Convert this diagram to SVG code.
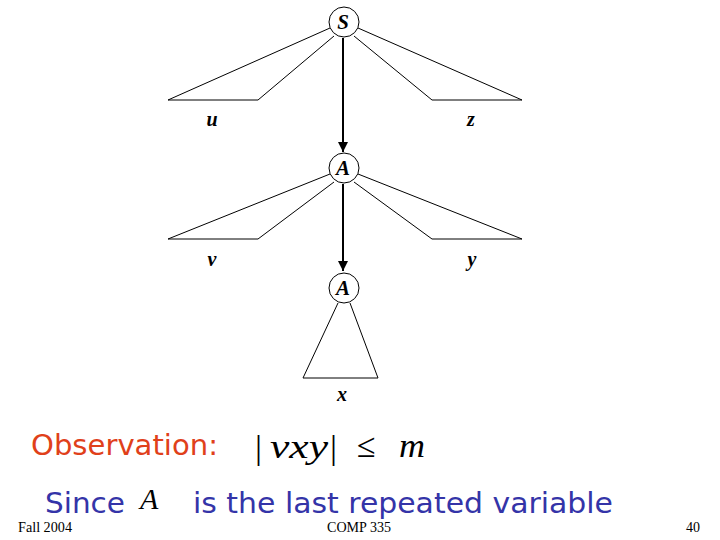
<svg xmlns="http://www.w3.org/2000/svg" width="720" height="540" viewBox="0 0 720 540">
<style>
.tri{fill:none;stroke:#000;stroke-width:1}
.node{fill:#fff;stroke:#000;stroke-width:1}
.nl{font-family:"Liberation Serif",serif;font-style:italic;font-weight:bold;font-size:21px;text-anchor:middle}
.lbl{font-family:"Liberation Serif",serif;font-style:italic;font-weight:bold;font-size:20px;text-anchor:middle}
.conn{stroke:#000;stroke-width:2;fill:none}
.foot{font-family:"Liberation Serif",serif;font-size:14px}
.math{font-family:"Liberation Serif",serif;font-size:34px}
</style>
<defs>
<marker id="ah" viewBox="0 0 10 10" refX="10" refY="5" markerWidth="5" markerHeight="5" orient="auto" markerUnits="strokeWidth">
<path d="M0,0 L10,5 L0,10 z" fill="#000"/>
</marker>
</defs>
<rect width="720" height="540" fill="#fff"/>
<g id="subtrees">
<polyline class="tri" points="330,28 168,100 258,100 334,36"/>
<polyline class="tri" points="358,28 522,100 432,100 354,36"/>
<polyline class="tri" points="330,174 168,239 258,239 334,182"/>
<polyline class="tri" points="358,174 522,239 432,239 354,182"/>
<polyline class="tri" points="338,303 303,378 378,378 350,303"/>
</g>
<g id="connectors">
<line class="conn" x1="343" y1="38" x2="343" y2="152" marker-end="url(#ah)"/>
<line class="conn" x1="343" y1="184" x2="343" y2="271" marker-end="url(#ah)"/>
</g>
<g id="node-S">
<circle class="node" cx="344" cy="22" r="15"/>
<text class="nl" x="343" y="29">S</text>
</g>
<g id="node-A1">
<circle class="node" cx="344" cy="168" r="15"/>
<text class="nl" x="343" y="175">A</text>
</g>
<g id="node-A2">
<circle class="node" cx="344" cy="288" r="15"/>
<text class="nl" x="343" y="295">A</text>
</g>
<g id="labels">
<text class="lbl" x="212" y="126">u</text>
<text class="lbl" x="471" y="126">z</text>
<text class="lbl" x="212" y="266">v</text>
<text class="lbl" x="472" y="266">y</text>
<text class="lbl" x="342" y="401">x</text>
</g>
<g id="text">
<text x="31" y="455" font-family="DejaVu Sans, sans-serif" font-size="29" fill="#E0401A" textLength="187" lengthAdjust="spacingAndGlyphs">Observation:</text>
<text class="math" x="255" y="459" font-size="40" textLength="7" lengthAdjust="spacingAndGlyphs">|</text>
<text class="math" x="270" y="458" font-style="italic" textLength="58" lengthAdjust="spacingAndGlyphs">vxy</text>
<text class="math" x="330" y="459" font-size="40" textLength="7" lengthAdjust="spacingAndGlyphs">|</text>
<text class="math" x="357" y="457" font-size="30">≤</text>
<text class="math" x="399" y="457" font-style="italic" textLength="26" lengthAdjust="spacingAndGlyphs">m</text>
<text x="45" y="513" font-family="DejaVu Sans, sans-serif" font-size="29" fill="#3434A8" textLength="80" lengthAdjust="spacingAndGlyphs">Since</text>
<text x="140" y="509" font-family="Liberation Serif, serif" font-size="30" font-style="italic">A</text>
<text x="193" y="513" font-family="DejaVu Sans, sans-serif" font-size="29" fill="#3434A8" textLength="420" lengthAdjust="spacingAndGlyphs">is the last repeated variable</text>
<text class="foot" x="18" y="532" textLength="54" lengthAdjust="spacingAndGlyphs">Fall 2004</text>
<text class="foot" x="327" y="532" textLength="64" lengthAdjust="spacingAndGlyphs">COMP 335</text>
<text class="foot" x="686" y="532">40</text>
</g>
</svg>
